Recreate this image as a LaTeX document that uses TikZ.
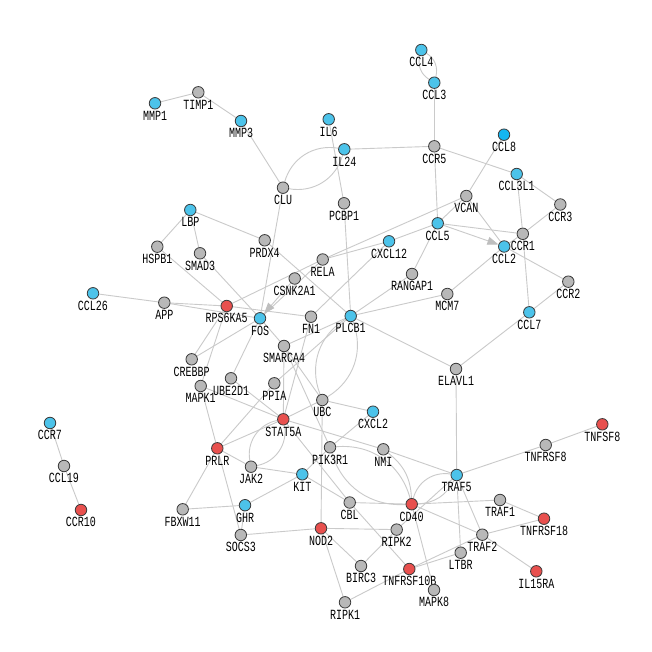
\documentclass[tikz,border=0pt]{standalone}
\usepackage{fontspec}
\usepackage{graphicx}
\newfontfamily\labfont{Liberation Mono}
\usetikzlibrary{arrows.meta}
\definecolor{ngray}{HTML}{B8B8B8}
\definecolor{nblue}{HTML}{4CC3EA}
\definecolor{nblueb}{HTML}{14B6F2}
\definecolor{nred}{HTML}{E8504E}
\definecolor{ndraw}{HTML}{3A3A3A}
\definecolor{ecol}{HTML}{CACACA}
\definecolor{acol}{HTML}{BEBEBE}
\pgfdeclarelayer{bg}
\pgfsetlayers{bg,main}
\newcommand{\lt}[1]{\scalebox{1}[1.4]{#1}}
\newcommand{\nd}[5]{\node[#1,label={[lab]below:\lt{#5}}] (#2) at (#3,#4) {};}
\tikzset{
  gn/.style={circle,draw=ndraw,fill=ngray,line width=0.8pt,minimum size=11.5pt,inner sep=0pt},
  bn/.style={gn,fill=nblue},
  bb/.style={gn,fill=nblueb},
  rn/.style={gn,fill=nred},
  lab/.style={font=\labfont\fontsize{10}{10}\selectfont,inner sep=0pt,label distance=1.2pt,text=black},
  e/.style={draw=ecol,line width=0.9pt},
  ar/.style={e,-{Triangle[length=11pt,width=8pt,color=acol]}}
}
\begin{document}
\begin{tikzpicture}[x=1pt,y=-1pt]
% nodes
\nd{bn}{CCL4}{421.3}{50}{CCL4}
\nd{bn}{CCL3}{434.3}{82.7}{CCL3}
\nd{bn}{MMP1}{155}{103.3}{MMP1}
\nd{gn}{TIMP1}{198.3}{92.3}{TIMP1}
\nd{bn}{MMP3}{241}{121}{MMP3}
\nd{bn}{IL6}{328.7}{119.3}{IL6}
\nd{bn}{IL24}{344.3}{149.3}{IL24}
\nd{gn}{CCR5}{434.3}{146.3}{CCR5}
\nd{bb}{CCL8}{504}{134.7}{CCL8}
\nd{bn}{CCL3L1}{516.7}{174}{CCL3L1}
\nd{gn}{CLU}{283}{187.7}{CLU}
\nd{gn}{PCBP1}{344}{203.3}{PCBP1}
\nd{gn}{VCAN}{466.3}{196}{VCAN}
\nd{gn}{CCR3}{560.3}{204.5}{CCR3}
\nd{bn}{LBP}{190.3}{210}{LBP}
\nd{gn}{PRDX4}{264.7}{240.3}{PRDX4}
\nd{bn}{CCL5}{437.7}{223.3}{CCL5}
\nd{gn}{CCR1}{522.8}{233.8}{CCR1}
\nd{bn}{CCL2}{504.2}{246.5}{CCL2}
\nd{gn}{HSPB1}{157.3}{246.7}{HSPB1}
\nd{gn}{SMAD3}{200}{253.3}{SMAD3}
\nd{gn}{RELA}{322.7}{259.5}{RELA}
\nd{bn}{CXCL12}{389}{241.3}{CXCL12}
\nd{gn}{CSNK2A1}{294.7}{278.5}{CSNK2A1}
\nd{gn}{RANGAP1}{412}{274}{RANGAP1}
\nd{gn}{CCR2}{568.3}{281.7}{CCR2}
\nd{bn}{CCL26}{93}{293.3}{CCL26}
\nd{gn}{APP}{164.3}{302.7}{APP}
\nd{rn}{RPS6KA5}{226.7}{306}{RPS6KA5}
\nd{bn}{FOS}{260}{318.3}{FOS}
\nd{gn}{FN1}{311}{316.7}{FN1}
\nd{bn}{PLCB1}{350.7}{316}{PLCB1}
\nd{gn}{MCM7}{447.3}{294}{MCM7}
\nd{bn}{CCL7}{529.3}{312.3}{CCL7}
\nd{gn}{SMARCA4}{284}{346}{SMARCA4}
\nd{gn}{CREBBP}{191.7}{359.3}{CREBBP}
\nd{gn}{UBE2D1}{231}{378.3}{UBE2D1}
\nd{gn}{MAPK1}{200.7}{386}{MAPK1}
\nd{gn}{PPIA}{274.3}{383.3}{PPIA}
\nd{gn}{ELAVL1}{456}{369}{ELAVL1}
\nd{gn}{UBC}{322.3}{400}{UBC}
\nd{bn}{CXCL2}{373}{411.7}{CXCL2}
\nd{rn}{STAT5A}{283.3}{419.3}{STAT5A}
\nd{bn}{CCR7}{50}{423}{CCR7}
\nd{rn}{PRLR}{217.3}{448.3}{PRLR}
\nd{gn}{PIK3R1}{330}{447.3}{PIK3R1}
\nd{gn}{NMI}{383.3}{449.3}{NMI}
\nd{gn}{CCL19}{64}{466}{CCL19}
\nd{gn}{JAK2}{251}{466.7}{JAK2}
\nd{bn}{KIT}{302.3}{474.3}{KIT}
\nd{bn}{TRAF5}{456.7}{475}{TRAF5}
\nd{rn}{TNFSF8}{602.3}{424.3}{TNFSF8}
\nd{gn}{TNFRSF8}{545.7}{445}{TNFRSF8}
\nd{gn}{FBXW11}{182.7}{509.3}{FBXW11}
\nd{bn}{GHR}{245}{505.2}{GHR}
\nd{gn}{CBL}{349.7}{502.5}{CBL}
\nd{rn}{CD40}{411.7}{504.2}{CD40}
\nd{gn}{TRAF1}{500}{500}{TRAF1}
\nd{rn}{CCR10}{81}{510}{CCR10}
\nd{rn}{TNFRSF18}{544}{518.7}{TNFRSF18}
\nd{gn}{SOCS3}{240.8}{535}{SOCS3}
\nd{rn}{NOD2}{321}{528.3}{NOD2}
\nd{gn}{RIPK2}{396.7}{529.6}{RIPK2}
\nd{gn}{TRAF2}{482.3}{534.7}{TRAF2}
\nd{gn}{LTBR}{460.7}{552.7}{LTBR}
\nd{gn}{BIRC3}{361}{566}{BIRC3}
\nd{rn}{TNFRSF10B}{409.3}{569}{TNFRSF10B}
\nd{rn}{IL15RA}{536.3}{571.3}{IL15RA}
\nd{gn}{MAPK8}{434}{590}{MAPK8}
\nd{gn}{RIPK1}{345}{602.3}{RIPK1}
% edges
\begin{pgfonlayer}{bg}
\fill[white] (0,0) rectangle (652,652);
\foreach \a/\b in {CCL3/CCR5,MMP1/TIMP1,TIMP1/MMP3,MMP3/CLU,IL24/CCR5,IL6/PCBP1,
  CCR5/CCL5,CCR5/CCL3L1,CCL8/VCAN,CCL3L1/CCR3,CCL3L1/CCR1,CCR3/CCR1,CCR1/CCL2,
  CCR1/CCL7,CCL2/CCR2,CCL7/CCR2,CCL7/ELAVL1,CCL5/CCR1,VCAN/CCL2,VCAN/CCL5,
  CCL5/RANGAP1,CCL2/MCM7,CXCL12/CCL5,RELA/VCAN,RELA/CXCL12,
  LBP/HSPB1,LBP/SMAD3,LBP/PRDX4,HSPB1/RPS6KA5,SMAD3/FOS,PRDX4/PLCB1,CLU/FOS,
  CCL26/APP,APP/RPS6KA5,APP/FOS,RPS6KA5/FN1,RPS6KA5/RELA,RPS6KA5/CREBBP,
  RPS6KA5/MAPK1,FOS/CREBBP,FOS/UBE2D1,FOS/SMARCA4,RELA/FOS,FN1/CXCL12,FN1/STAT5A,
  PCBP1/PLCB1,PLCB1/RANGAP1,PLCB1/MCM7,PLCB1/ELAVL1,PLCB1/SMARCA4,PLCB1/PPIA,
  SMARCA4/UBC,SMARCA4/STAT5A,SMARCA4/PIK3R1,MAPK1/STAT5A,MAPK1/PRLR,UBE2D1/STAT5A,
  PRLR/PPIA,PRLR/STAT5A,PRLR/JAK2,PRLR/FBXW11,PRLR/SOCS3,UBC/STAT5A,UBC/CXCL2,
  UBC/NOD2,STAT5A/NMI,STAT5A/CBL,JAK2/KIT,KIT/GHR,KIT/CBL,KIT/PIK3R1,PIK3R1/CXCL2,
  NMI/TRAF5,GHR/FBXW11,GHR/SOCS3,SOCS3/NOD2,NOD2/RIPK2,NOD2/BIRC3,NOD2/RIPK1,
  BIRC3/RIPK2,RIPK2/TRAF5,CBL/CD40,CD40/TRAF1,CD40/TRAF2,CD40/MAPK8,
  CBL/TNFRSF10B,RIPK1/TNFRSF10B,TNFRSF10B/TRAF2,TNFRSF10B/LTBR,TRAF5/LTBR,
  TRAF5/TRAF2,TRAF5/TNFRSF8,TNFRSF8/TNFSF8,TRAF1/TNFRSF18,TRAF2/TNFRSF18,
  TRAF2/IL15RA,ELAVL1/TRAF5,CCR7/CCL19,CCL19/CCR10}
  \draw[e] (\a) -- (\b);
\draw[e] (CCL4) to[bend left=36] (CCL3);
\draw[e] (CCL4) to[bend right=36] (CCL3);
\draw[e] (CLU) to[bend left=42] (IL24);
\draw[e] (CLU) to[bend right=42] (IL24);
\draw[e] (PLCB1) to[bend left=40] (UBC);
\draw[e] (PLCB1) to[bend right=40] (UBC);
\draw[e] (JAK2) to[bend left=45] (STAT5A);
\draw[e] (JAK2) to[bend right=45] (STAT5A);
\draw[e] (PIK3R1) to[bend left=40] (CD40);
\draw[e] (PIK3R1) to[bend right=38] (CD40);
\draw[e] (NMI) to[bend left=25] (CD40);
\draw[e] (CD40) to[bend left=42] (TRAF5);
\draw[e] (CD40) to[bend right=30] (TRAF5);
\draw[ar] (CCL5) -- (CCL2);
\draw[ar] (CSNK2A1) -- (FOS);
\end{pgfonlayer}
\end{tikzpicture}
\end{document}
